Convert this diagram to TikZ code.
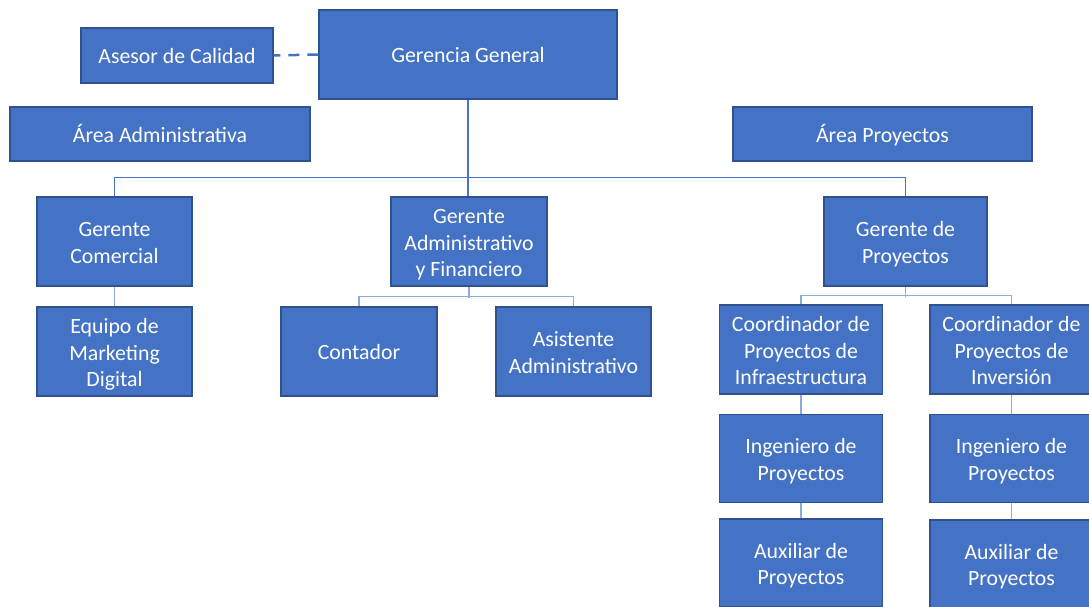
\documentclass[tikz,border=0pt]{standalone}
\usepackage{fontspec}
\setmainfont{Carlito}
\definecolor{boxfill}{HTML}{4472C4}
\definecolor{boxline}{HTML}{2F528F}
\definecolor{mainline}{HTML}{4472C4}
\definecolor{subline}{HTML}{8FAADC}
\tikzset{
  unit/.style={draw=boxline, line width=1.2pt, fill=boxfill, text=white, inner sep=0pt,
    align=center, font=\fontsize{21.8}{26.5}\selectfont, text depth=5pt, text height=21pt},
  twolines/.style={text height=48.5pt},
  threelines/.style={text height=75.5pt},
  conn/.style={draw=mainline, line width=1.1pt},
  subconn/.style={draw=subline, line width=1.3pt},
}
\begin{document}
\begin{tikzpicture}[x=1pt,y=-1pt]
\useasboundingbox (0,0) rectangle (1089,606);
% top level
\node[unit, minimum width=298pt, minimum height=89pt] (gg) at (468,54.5) {Gerencia General};
\node[unit, minimum width=192pt, minimum height=55pt] (ac) at (177,55.5) {Asesor de Calidad};
\node[unit, minimum width=300pt, minimum height=54pt] (aa) at (160,134) {Área Administrativa};
\node[unit, minimum width=299pt, minimum height=54pt] (ap) at (882.5,134) {Área Proyectos};
% second level
\node[unit, twolines, minimum width=155pt, minimum height=89pt] (gc) at (114.5,241.5) {Gerente\\Comercial};
\node[unit, threelines, minimum width=156pt, minimum height=89pt] (ga) at (469,241.5) {Gerente\\Administrativo\\y Financiero};
\node[unit, twolines, minimum width=163pt, minimum height=89pt] (gp) at (905.5,241.5) {Gerente de\\Proyectos};
% third level
\node[unit, threelines, minimum width=155pt, minimum height=89pt] (em) at (114.5,351.5) {Equipo de\\Marketing\\Digital};
\node[unit, minimum width=156pt, minimum height=89pt] (co) at (359,351.5) {Contador};
\node[unit, twolines, minimum width=155pt, minimum height=89pt] (as) at (573.5,351.5) {Asistente\\Administrativo};
\node[unit, threelines, minimum width=163pt, minimum height=89pt] (ci) at (801,349.5) {Coordinador de\\Proyectos de\\Infraestructura};
\node[unit, threelines, minimum width=163pt, minimum height=89pt] (cv) at (1011.5,349.5) {Coordinador de\\Proyectos de\\Inversión};
\node[unit, twolines, minimum width=163pt, minimum height=88pt] (ii) at (801,458.5) {Ingeniero de\\Proyectos};
\node[unit, twolines, minimum width=163pt, minimum height=88pt] (iv) at (1011.5,458.5) {Ingeniero de\\Proyectos};
\node[unit, twolines, minimum width=163pt, minimum height=88pt] (xi) at (801,563) {Auxiliar de\\Proyectos};
\node[unit, twolines, minimum width=163pt, minimum height=88pt] (xv) at (1011.5,564) {Auxiliar de\\Proyectos};
% connectors
\draw[draw=mainline, line width=2.5pt, dash pattern=on 11pt off 8pt] (gg.west) -- (ac.east);
\draw[conn] (gg.south) -- (gg.south |- ga.north);
\draw[conn] (gc.north) -- ++(0,-19) -| (gp.north);
\draw[subconn] (gc.south) -- (em.north);
\draw[subconn] (ga.south) -- ++(0,11);
\draw[subconn] (co.north) -- ++(0,-10) -| (as.north);
\draw[subconn] (gp.south) -- ++(0,10);
\draw[subconn] (ci.north) -- ++(0,-9) -| (cv.north);
\draw[subconn] (ci.south) -- (ii.north);
\draw[subconn] (ii.south) -- (xi.north);
\draw[subconn] (cv.south) -- (iv.north);
\draw[subconn] (iv.south) -- (xv.north);
\end{tikzpicture}
\end{document}
